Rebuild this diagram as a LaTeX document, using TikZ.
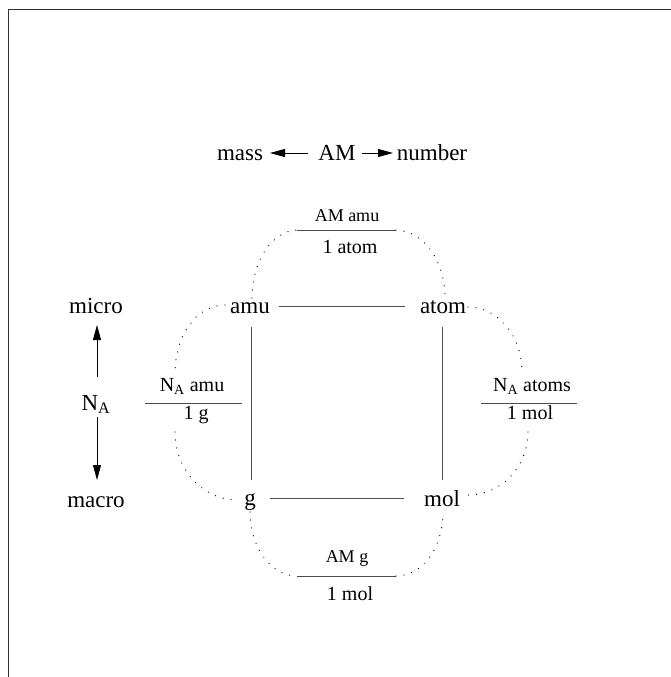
\documentclass[tikz,border=0pt]{standalone}
\usepackage{fontspec}
\setmainfont{Liberation Serif}
\usetikzlibrary{arrows.meta}
\begin{document}
\begin{tikzpicture}[x=1pt,y=-1pt,
 lbl/.style={anchor=base,inner sep=0pt,font=\fontsize{23}{27}\selectfont},
 fracd/.style={anchor=base,inner sep=0pt,font=\fontsize{20}{24}\selectfont},
 fracn/.style={anchor=base,inner sep=0pt,font=\fontsize{18}{22}\selectfont},
 link/.style={draw=black!70,line width=0.9pt},
 fbar/.style={draw=black!70,line width=1pt},
 dots/.style={line width=1.3pt,dash pattern=on 0.01pt off 8pt,line cap=round},
 arr/.style={line width=0.8pt,-{Triangle[length=15pt,width=8pt]}},
]
\useasboundingbox (0,0) rectangle (671,677);
% frame
\draw[line width=1pt,black!80] (8,677) -- (8,9.5) -- (671,9.5);

% top legend
\node[lbl] (mass) at (240,160) {mass};
\node[lbl] (am) at (337,160) {AM};
\node[lbl] (number) at (432,160) {number};
\coordinate (amL) at (308,153);
\coordinate (massR) at (270,153);
\coordinate (amR) at (362,153);
\coordinate (numL) at (393,153);
\draw[arr] (amL) -- (massR);
\draw[arr] (amR) -- (numL);

% left legend
\node[lbl] (micro) at (96,313) {micro};
\node[lbl] (macro) at (96,507) {macro};
\node[lbl] (na) at (96,410) {N\textsubscript{A}};
\coordinate (naT) at (97,377);
\coordinate (microB) at (97,325);
\coordinate (naB) at (97,417);
\coordinate (macroT) at (97,480);
\draw[arr] (naT) -- (microB);
\draw[arr] (naB) -- (macroT);

% corner nodes
\node[lbl] (amu) at (250,313) {amu};
\node[lbl] (atom) at (443,313) {atom};
\node[lbl] (g) at (250,505) {g};
\node[lbl] (mol) at (442,506) {mol};

\coordinate (amuR) at (279,306);
\coordinate (atomL) at (405,306);
\coordinate (gR) at (270,498);
\coordinate (molL) at (404,498);
\coordinate (amuB) at (251,327);
\coordinate (gT) at (251,480);
\coordinate (atomB) at (442,327);
\coordinate (molT) at (442,480);
\draw[link] (amuR) -- (atomL);
\draw[link] (gR) -- (molL);
\draw[link] (amuB) -- (gT);
\draw[link] (atomB) -- (molT);

% top fraction
\node[fracn] (tnum) at (347,221) {AM amu};
\node[fracd] (tden) at (350,253) {1 atom};
\coordinate (tbL) at (297,230);
\coordinate (tbR) at (396,230);
\draw[fbar] (tbL) -- (tbR);

% left fraction
\node[fracd] (lnum) at (192,391) {N\textsubscript{A} amu};
\node[fracd] (lden) at (196,419) {1 g};
\coordinate (lbL) at (145,403);
\coordinate (lbR) at (242,403);
\draw[fbar] (lbL) -- (lbR);

% right fraction
\node[fracd] (rnum) at (532,391) {N\textsubscript{A} atoms};
\node[fracd] (rden) at (530,419) {1 mol};
\coordinate (rbL) at (481,403);
\coordinate (rbR) at (577,403);
\draw[fbar] (rbL) -- (rbR);

% bottom fraction
\node[fracn] (bnum) at (347,562) {AM g};
\node[fracd] (bden) at (350,600) {1 mol};
\coordinate (bbL) at (297,576);
\coordinate (bbR) at (396,576);
\draw[fbar] (bbL) -- (bbR);

% dotted arcs
\coordinate (amuTop) at (252,298);
\coordinate (atomTop) at (445,298);
\coordinate (amuLeft) at (225,305);
\coordinate (gLeft) at (238,500);
\coordinate (atomRight) at (468,307);
\coordinate (molRight) at (468,495);
\coordinate (gBot) at (250,512);
\coordinate (molBot) at (443,512);
\coordinate (lTop) at (175,373);
\coordinate (lBot) at (175,432);
\coordinate (rTop) at (522,372);
\coordinate (rBot) at (528,432);

\draw[dots] (amuTop) .. controls (252,261) and (272,231) .. (tbL);
\draw[dots] (tbR) .. controls (424,231) and (445,261) .. (atomTop);
\draw[dots] (amuLeft) .. controls (197,305) and (175,335) .. (lTop);
\draw[dots] (lBot) .. controls (175,470) and (203,500) .. (gLeft);
\draw[dots] (atomRight) .. controls (498,307) and (522,336) .. (rTop);
\draw[dots] (rBot) .. controls (528,467) and (501,495) .. (molRight);
\draw[dots] (gBot) .. controls (250,547) and (271,576) .. (bbL);
\draw[dots] (bbR) .. controls (423,576) and (443,547) .. (molBot);
\end{tikzpicture}
\end{document}
